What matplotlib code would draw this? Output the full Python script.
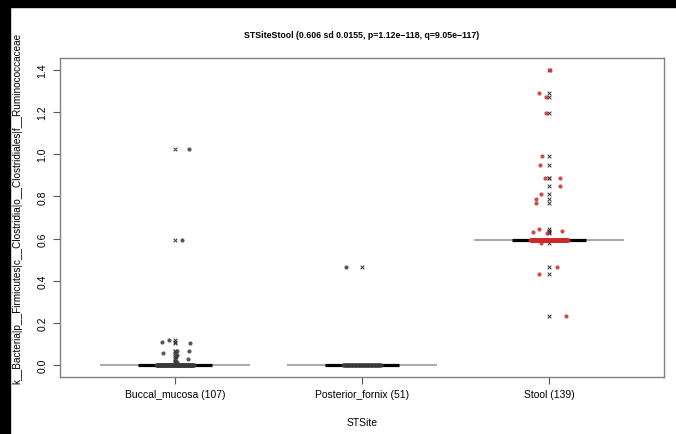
import matplotlib
matplotlib.use("Agg")
import matplotlib.pyplot as plt
from matplotlib.patches import Rectangle
import numpy as np

plt.rcParams['font.family'] = ['Liberation Sans', 'DejaVu Sans']

# data
sites = ['Buccal_mucosa', 'Posterior_fornix', 'Stool']
counts = [107, 51, 139]
medians = [0.0, 0.0, 0.594]

# points that differ from the median (outliers), with their jitter
buccal_out = [1.027, 0.594, 0.119, 0.108, 0.107, 0.067, 0.066, 0.060, 0.048, 0.038, 0.030, 0.022, 0.015]
buccal_jit = [0.075, 0.04, -0.03, -0.07, 0.08, 0.075, 0.01, -0.065, 0.01, 0.005, 0.07, 0.0, 0.01]
posterior_out = [0.466]
posterior_jit = [-0.087]
stool_out = [1.40, 1.291, 1.272, 1.197, 0.992, 0.950, 0.888, 0.888, 0.850, 0.811,
             0.788, 0.769, 0.646, 0.638, 0.629, 0.627, 0.580, 0.466, 0.431, 0.233]
stool_jit = [0.005, -0.053, -0.016, -0.016, -0.039, -0.05, -0.023, 0.059, 0.059, -0.044,
             -0.07, -0.07, -0.053, 0.07, -0.086, -0.011, -0.043, 0.043, -0.053, 0.09]

outliers = [buccal_out, posterior_out, stool_out]
jitters = [buccal_jit, posterior_jit, stool_jit]
dot_colors = ['#3a3a3a', '#3a3a3a', '#cc2a2a']

title = "STSiteStool (0.606 sd 0.0155, p=1.12e\u2212118, q=9.05e\u2212117)"
ylab = "k__Bacteria|p__Firmicutes|c__Clostridia|o__Clostridiales|f__Ruminococcaceae"

fig = plt.figure(figsize=(6.76, 4.35), dpi=100)
ax = fig.add_axes([60/676, 1 - 378/435, 604/676, 319/435])

for i, (med, n, outs, jit, col) in enumerate(zip(medians, counts, outliers, jitters, dot_colors)):
    pos = i + 1
    # collapsed box (grey) and median bar (black)
    ax.plot([pos - 0.4, pos + 0.4], [med, med], color='#9a9a9a', lw=1.2, solid_capstyle='butt', zorder=2)
    ax.plot([pos - 0.2, pos + 0.2], [med, med], color='black', lw=2.3, solid_capstyle='butt', zorder=3)
    # outlier crosses at the box position
    ax.scatter([pos] * len(outs), outs, marker='x', s=7, linewidths=0.7, color='#333333', zorder=4)
    # stripchart: all points, jittered
    n_core = n - len(outs)
    core_x = pos + np.linspace(-0.1, 0.1, n_core)
    ax.scatter(core_x, [med] * n_core, s=9, color=col, alpha=0.85, linewidths=0, zorder=5)
    ax.scatter(pos + np.array(jit), outs, s=9, color=col, alpha=0.85, linewidths=0, zorder=5)

ax.set_xlim(0.385, 3.615)
ax.set_ylim(-0.056, 1.456)
ax.set_xticks([1, 2, 3])
ax.set_xticklabels([f"{s} ({n})" for s, n in zip(sites, counts)], fontsize=7.5)
ax.set_yticks(np.arange(0, 1.41, 0.2))
ax.set_yticklabels([f"{v:.1f}" for v in np.arange(0, 1.41, 0.2)], rotation=90, va='center', fontsize=7.5)
ax.tick_params(axis='both', length=5, width=0.8, color='#555555', pad=4)
for sp in ax.spines.values():
    sp.set_color('#808080')
    sp.set_linewidth(1)

fig.text(362/676, 1 - 35/435, title, ha='center', va='center', fontsize=6.3, fontweight='bold')
fig.text(362/676, 1 - 423/435, "STSite", ha='center', va='center', fontsize=7.5)
fig.text(17/676, 1 - 208/435, ylab, ha='center', va='center', rotation=90, fontsize=7.2)

# black strips at top and left edge of the screenshot
fig.add_artist(Rectangle((0, 1 - 8/435), 1, 8/435, transform=fig.transFigure, color='black', zorder=10))
fig.add_artist(Rectangle((0, 0), 10/676, 1, transform=fig.transFigure, color='black', zorder=10))

fig.savefig('out.png', dpi=100)
